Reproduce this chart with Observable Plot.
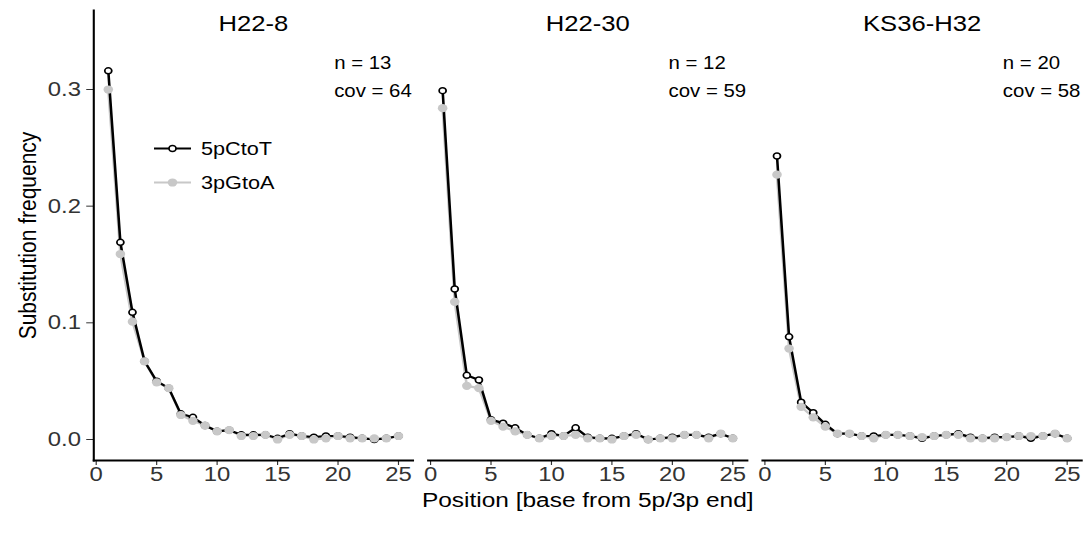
<!DOCTYPE html>
<html><head><meta charset="utf-8">
<script src="https://cdn.jsdelivr.net/npm/d3@7"></script>
<script src="https://cdn.jsdelivr.net/npm/@observablehq/plot@0.6"></script>
<style>
html,body{margin:0;padding:0;background:#fff;}
#chart{position:relative;width:1091px;height:540px;overflow:hidden;font-family:"Liberation Sans",Arial,Helvetica,sans-serif;}
#inner{position:absolute;left:0;top:0;transform-origin:0 0;}
#legend{position:absolute;left:0;top:0;pointer-events:none;}
</style></head><body><div id="chart"><div id="inner"></div></div>
<script>
const samples = ["H22-8", "H22-30", "KS36-H32"];
const nReads = [13, 12, 20];
const coverage = [64, 59, 58];
const positions = [1,2,3,4,5,6,7,8,9,10,11,12,13,14,15,16,17,18,19,20,21,22,23,24,25];
const xTicks = [0, 5, 10, 15, 20, 25];
const yTicks = [0, 0.1, 0.2, 0.3];
const seriesNames = ["5pCtoT", "3pGtoA"];

const ctot_H22_8  = [0.316,0.169,0.109,0.067,0.050,0.044,0.022,0.019,0.012,0.007,0.008,0.004,0.004,0.004,0.001,0.005,0.003,0.002,0.003,0.003,0.002,0.001,0.000,0.001,0.003];
const gtoa_H22_8  = [0.300,0.159,0.101,0.067,0.049,0.044,0.021,0.016,0.012,0.007,0.008,0.003,0.003,0.004,0.000,0.004,0.003,0.000,0.001,0.003,0.001,0.001,0.001,0.001,0.003];
const ctot_H22_30 = [0.299,0.129,0.055,0.051,0.017,0.014,0.010,0.004,0.001,0.005,0.003,0.010,0.002,0.001,0.001,0.003,0.005,0.000,0.001,0.002,0.004,0.004,0.002,0.005,0.001];
const gtoa_H22_30 = [0.284,0.118,0.046,0.044,0.016,0.011,0.007,0.004,0.001,0.003,0.003,0.004,0.001,0.001,0.000,0.003,0.004,0.000,0.001,0.001,0.004,0.004,0.001,0.005,0.001];
const ctot_KS36   = [0.243,0.088,0.032,0.023,0.013,0.005,0.005,0.003,0.003,0.004,0.004,0.003,0.001,0.003,0.004,0.005,0.002,0.001,0.002,0.002,0.003,0.001,0.003,0.005,0.001];
const gtoa_KS36   = [0.227,0.078,0.028,0.019,0.011,0.005,0.005,0.003,0.001,0.004,0.004,0.003,0.002,0.003,0.004,0.004,0.001,0.001,0.001,0.002,0.003,0.003,0.003,0.005,0.001];

const ctotSeries = [ctot_H22_8, ctot_H22_30, ctot_KS36];
const gtoaSeries = [gtoa_H22_8, gtoa_H22_30, gtoa_KS36];

function build(seriesList, type) {
  const rows = [];
  samples.forEach((s, si) => {
    positions.forEach((p, pi) => rows.push({sample: s, pos: p, value: seriesList[si][pi], type}));
  });
  return rows;
}
const rows5p = build(ctotSeries, seriesNames[0]);
const rows3p = build(gtoaSeries, seriesNames[1]);

// the reference is drawn with a horizontal stretch; emulate it
const SX = 1.165;
const W = 1091 / SX;
const FONT = '"Liberation Sans", Arial, Helvetica, sans-serif';
const GREY = "#c8c8c8";
const annotations = samples.map((s, i) => ({sample: s, label: `n = ${nReads[i]}\ncov = ${coverage[i]}`}));

const plot = Plot.plot({
  width: W,
  height: 540,
  marginLeft: 92.6 / SX,
  marginRight: 8.4 / SX,
  marginTop: 10,
  marginBottom: 80,
  style: {fontFamily: FONT, fontSize: "20.5px", color: "#333", background: "white"},
  fx: {domain: samples, paddingInner: 15 / 335, paddingOuter: 0, axis: null, label: null},
  x: {domain: [-0.2, 26.2], ticks: xTicks, tickSize: 5, tickPadding: 1, label: null},
  y: {domain: [-0.018, 0.3677], ticks: yTicks, tickFormat: d3.format(".1f"), tickSize: 6, tickPadding: 5, label: null},
  marks: [
    Plot.frame({anchor: "bottom", stroke: "black", strokeWidth: 1.8}),
    Plot.frame({anchor: "left", facetAnchor: "left", stroke: "black", strokeWidth: 1.8}),
    Plot.line(rows3p, {x: "pos", y: "value", fx: "sample", stroke: GREY, strokeWidth: 2.2}),
    Plot.line(rows5p, {x: "pos", y: "value", fx: "sample", stroke: "black", strokeWidth: 2.2}),
    Plot.dot(rows5p, {x: "pos", y: "value", fx: "sample", r: 3, fill: "white", stroke: "black", strokeWidth: 1.5}),
    Plot.dot(rows3p, {x: "pos", y: "value", fx: "sample", r: 4.1, fill: GREY, stroke: "none"}),
    Plot.text(samples, {fx: d => d, text: d => d, frameAnchor: "top", dy: 13, lineAnchor: "middle", fontSize: 22, fill: "black"}),
    Plot.text(annotations, {fx: "sample", text: "label", frameAnchor: "top-left", textAnchor: "start", lineAnchor: "top", dx: 240.4 / SX, dy: 39, lineHeight: 1.6, fontSize: 17.5, fill: "black"}),
    Plot.text(["Position [base from 5p/3p end]"], {facet: "super", frameAnchor: "bottom", textAnchor: "middle", lineAnchor: "middle", dy: 40, fontSize: 21, fill: "black"}),
    Plot.text(["Substitution frequency"], {facet: "super", frameAnchor: "left", textAnchor: "middle", lineAnchor: "middle", rotate: -90, dx: 27 / SX - 92.6 / SX, fontSize: 21, fill: "black"})
  ]
});
const inner = document.getElementById("inner");
inner.style.width = W + "px";
inner.style.height = "540px";
inner.style.transform = `scaleX(${SX})`;
inner.appendChild(plot);

// legend overlay (inside the stretched layer)
const ns = "http://www.w3.org/2000/svg";
const leg = document.createElementNS(ns, "svg");
leg.setAttribute("id", "legend");
leg.setAttribute("width", W);
leg.setAttribute("height", 540);
const legendItems = [
  {name: seriesNames[0], y: 148.5, stroke: "black", fill: "white", dotStroke: "black", r: 3},
  {name: seriesNames[1], y: 182.5, stroke: GREY, fill: GREY, dotStroke: "none", r: 4.1}
];
legendItems.forEach(it => {
  const l = document.createElementNS(ns, "line");
  l.setAttribute("x1", 154 / SX); l.setAttribute("x2", 191 / SX);
  l.setAttribute("y1", it.y); l.setAttribute("y2", it.y);
  l.setAttribute("stroke", it.stroke); l.setAttribute("stroke-width", 2.2);
  leg.appendChild(l);
  const c = document.createElementNS(ns, "circle");
  c.setAttribute("cx", 172.5 / SX); c.setAttribute("cy", it.y); c.setAttribute("r", it.r);
  c.setAttribute("fill", it.fill); c.setAttribute("stroke", it.dotStroke); c.setAttribute("stroke-width", 1.5);
  leg.appendChild(c);
  const t = document.createElementNS(ns, "text");
  t.setAttribute("x", 201 / SX); t.setAttribute("y", it.y); t.setAttribute("dy", "0.35em");
  t.setAttribute("font-size", 18.6); t.setAttribute("fill", "black");
  t.setAttribute("font-family", FONT);
  t.textContent = it.name;
  leg.appendChild(t);
});
inner.appendChild(leg);
</script>
</body></html>
